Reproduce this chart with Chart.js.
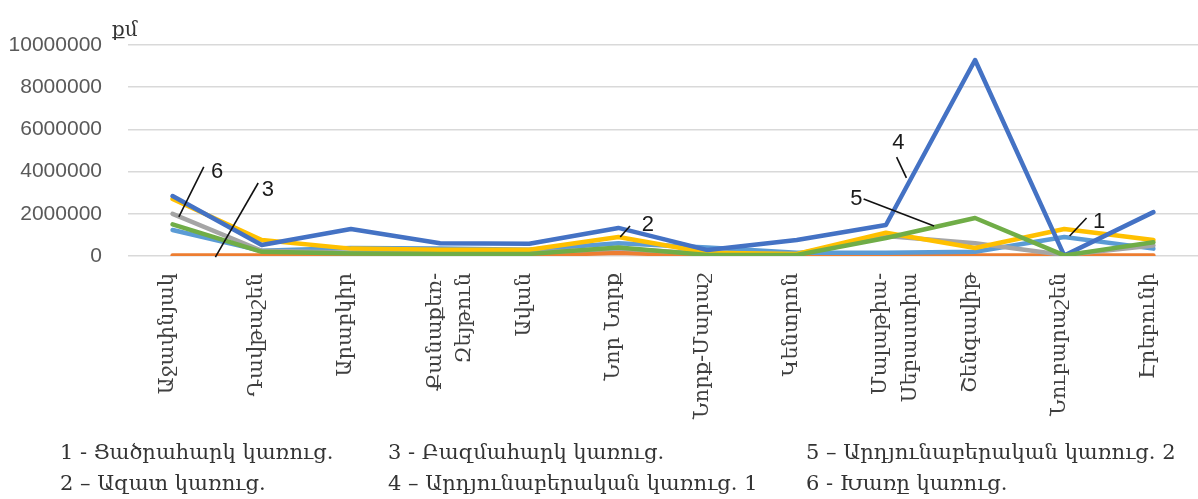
<!DOCTYPE html>
<html lang="hy">
<head>
<meta charset="utf-8">
<title>Կառուցապատման մակերես ըստ վարչական շրջանների</title>
<script src="https://cdn.jsdelivr.net/npm/chart.js@4.4.1/dist/chart.umd.min.js"></script>
<style>
  html, body { margin: 0; padding: 0; background: #ffffff; }
  #wrap { position: relative; width: 1198px; height: 499px; overflow: hidden; }
  #chart { position: absolute; left: 0; top: 0; }
  .unit { position: absolute; left: 112px; top: 17px; font: 20px "DejaVu Serif", serif; color: #333333; }
  .key { position: absolute; font: 21px "DejaVu Serif", serif; color: #333333; white-space: nowrap; line-height: 24px; }
</style>
</head>
<body>
<div id="wrap">
  <canvas id="chart" width="1198" height="499"></canvas>
  <div class="unit">քմ</div>
  <div class="key" style="left:60px; top:440px;">1 - Ցածրահարկ կառուց.</div>
  <div class="key" style="left:60px; top:471px;">2 – Ազատ կառուց.</div>
  <div class="key" style="left:388px; top:440px;">3 - Բազմահարկ կառուց.</div>
  <div class="key" style="left:388px; top:471px;">4 – Արդյունաբերական կառուց. 1</div>
  <div class="key" style="left:806px; top:440px;">5 – Արդյունաբերական կառուց. 2</div>
  <div class="key" style="left:806px; top:471px;">6 - Խառը կառուց.</div>
</div>
<script>
// Yerevan districts
const districts = [
  "Աջափնյակ", "Դավթաշեն", "Արաբկիր", ["Քանաքեռ-", "Զեյթուն"], "Ավան",
  "Նոր Նորք", "Նորք-Մարաշ", "Կենտրոն", ["Մալաթիա-", "Սեբաստիա"],
  "Շենգավիթ", "Նուբարաշեն", "Էրեբունի"
];

// Built-up area, square metres, by construction type
const lowRise      = [1230000, 250000, 380000, 350000, 300000, 600000, 400000, 150000, 150000, 200000, 900000, 350000];   // 1
const freeBuilt    = [2700000, 760000, 350000, 300000, 300000, 900000, 150000, 100000, 1100000, 380000, 1280000, 760000]; // 2
const multiStorey  = [20000, 20000, 20000, 20000, 30000, 150000, 20000, 20000, 20000, 20000, 20000, 20000];                  // 3
const industrial1  = [2840000, 520000, 1280000, 600000, 580000, 1330000, 280000, 760000, 1470000, 9290000, 20000, 2080000];  // 4
const industrial2  = [1500000, 200000, 120000, 100000, 100000, 400000, 50000, 50000, 850000, 1800000, 30000, 650000];        // 5
const mixed        = [2000000, 250000, 150000, 150000, 150000, 350000, 100000, 100000, 950000, 600000, 50000, 500000];       // 6

const yTicks = [0, 2000000, 4000000, 6000000, 8000000, 10000000];

// Numbered callouts: label, text anchor and leader line ends as [category index, value]
const calloutLabels = ["6", "3", "2", "4", "5", "1"];
const calloutText   = [[0.50, 3980000], [1.07, 3130000], [5.33, 1470000], [8.14, 5360000], [7.67, 2720000], [10.39, 1610000]];
const calloutFrom   = [[0.07, 1850000], [0.48, -50000], [5.02, 900000], [8.12, 4690000], [7.75, 2700000], [10.06, 950000]];
const calloutTo     = [[0.35, 4220000], [0.96, 3460000], [5.13, 1420000], [8.23, 3700000], [8.54, 1420000], [10.25, 1800000]];

const callouts = {
  id: 'callouts',
  afterDatasetsDraw(chart) {
    const { ctx, scales: { x, y } } = chart;
    const px = i => x.getPixelForValue(0) + i * (x.getPixelForValue(1) - x.getPixelForValue(0));
    ctx.save();
    ctx.strokeStyle = '#111111';
    ctx.lineWidth = 1.6;
    ctx.fillStyle = '#1a1a1a';
    ctx.font = '22px "Liberation Sans", Arial, sans-serif';
    ctx.textAlign = 'center';
    ctx.textBaseline = 'middle';
    calloutLabels.forEach((label, k) => {
      ctx.beginPath();
      ctx.moveTo(px(calloutFrom[k][0]), y.getPixelForValue(calloutFrom[k][1]));
      ctx.lineTo(px(calloutTo[k][0]), y.getPixelForValue(calloutTo[k][1]));
      ctx.stroke();
      ctx.fillText(label, px(calloutText[k][0]), y.getPixelForValue(calloutText[k][1]));
    });
    ctx.restore();
  }
};

function series(data, color, order) {
  return {
    data, borderColor: color, backgroundColor: color, order,
    borderWidth: 4.5, pointRadius: 0, tension: 0,
    borderJoinStyle: 'round', borderCapStyle: 'round', fill: false
  };
}

new Chart(document.getElementById('chart'), {
  type: 'line',
  data: {
    labels: districts,
    datasets: [
      series(lowRise,     '#5B9BD5', 5),
      series(freeBuilt,   '#FFC000', 3),
      series(multiStorey, '#ED7D31', 6),
      series(industrial1, '#4472C4', 2),
      series(industrial2, '#70AD47', 1),
      series(mixed,       '#A5A5A5', 4)
    ]
  },
  options: {
    responsive: false,
    animation: false,
    devicePixelRatio: 1,
    layout: { padding: { top: 45, right: 0, left: 0, bottom: 0 } },
    plugins: { legend: { display: false }, tooltip: { enabled: false } },
    scales: {
      x: {
        offset: true,
        grid: { display: false },
        border: { display: false },
        ticks: {
          autoSkip: false, minRotation: 90, maxRotation: 90, padding: 9, labelOffset: -5,
          color: '#404040',
          font: { family: '"DejaVu Serif", serif', size: 21, lineHeight: 1.4 }
        },
        afterFit(scale) { scale.height = 243; }
      },
      y: {
        min: 0, max: 10000000,
        grid: { color: '#d9d9d9', lineWidth: 1.5, drawTicks: false },
        border: { display: false },
        afterBuildTicks(scale) { scale.ticks = yTicks.map(v => ({ value: v })); },
        ticks: {
          padding: 26, color: '#595959',
          font: { family: '"Liberation Sans", Arial, sans-serif', size: 21 },
          callback: v => String(v)
        },
        afterFit(scale) { scale.width = 128; }
      }
    }
  },
  plugins: [callouts]
});
</script>
</body>
</html>
